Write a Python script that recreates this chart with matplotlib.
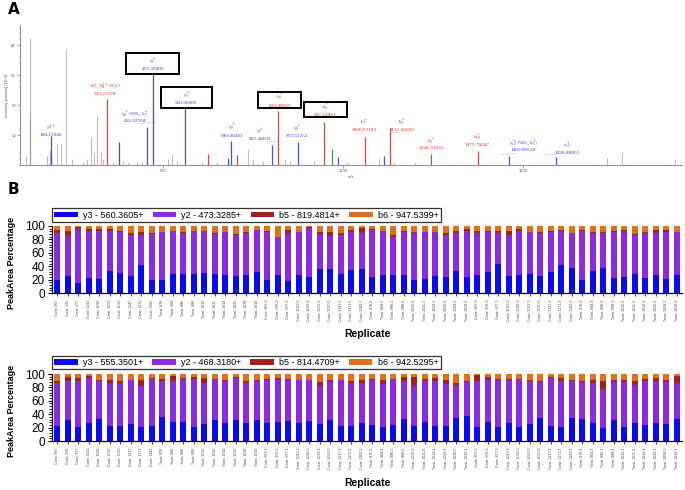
import matplotlib
matplotlib.use('Agg')
import matplotlib.pyplot as plt
from matplotlib.patches import Rectangle
from matplotlib.ticker import MultipleLocator, AutoMinorLocator

plt.rcParams['font.family'] = ['Liberation Sans', 'DejaVu Sans']
plt.rcParams['mathtext.fontset'] = 'stix'

# ---- panel A: MS/MS spectrum (intensity in 10^3 counts) ----
grey_mz = [121, 132, 177, 186, 205, 216, 232, 246, 277, 290, 299, 308, 317, 328, 334,
           362, 390, 404, 427, 441, 515, 524, 538, 607, 649, 737, 751, 779, 839, 853,
           918, 1010, 1100, 1140, 1200, 1732, 1774, 1922]
grey_int = [3.0, 42.2, 3.0, 5.0, 7.0, 7.0, 38.3, 2.0, 1.0, 2.0, 9.4, 4.0, 16.7, 4.5, 2.0,
            1.0, 1.5, 1.0, 1.5, 1.0, 2.0, 3.5, 1.5, 1.0, 1.0, 5.5, 2.0, 1.5, 2.0, 1.5,
            1.5, 1.0, 2.5, 1.0, 1.0, 2.5, 3.9, 2.0]
dark_mz = [131]
dark_int = [17.0]
blue_mz = [188.16, 190, 378, 456.34, 473.33, 560.36, 680, 689.40, 802.49, 873.52, 987, 1113,
           1460.86, 1590.89]
blue_int = [9.8, 3.5, 7.6, 12.8, 33.1, 18.9, 2.2, 8.0, 6.7, 7.6, 2.8, 3.0, 3.1, 2.6]
red_mz = [343.25, 626, 705, 819.48, 947.54, 1060.62, 1131.66, 1244.74, 1373.78]
red_int = [21.9, 3.7, 3.5, 18.0, 14.2, 9.4, 12.4, 3.6, 4.7]
green_mz = [968]
green_int = [5.3]

# label text, x (m/z), y (intensity), colour, box (w in m/z, h in intensity) or None
ion_labels = [
    ('y$_3^{2+}$\n188.15945', 188, 11.8, 'b', None),
    ('b$_3^+$, b$_4^{2+}$-H$_2$O\n343.25378', 339, 25.5, 'r', None),
    ('y$_4^+$-NH$_3$, b$_3^+$\n456.33768', 422, 16.2, 'b', None),
    ('y$_2^+$\n473.32800', 472, 33.8, 'b', (147, 7.0)),
    ('y$_3^+$\n560.36005', 565, 22.5, 'b', (142, 7.0)),
    ('y$_5^+$\n689.40283', 692, 11.7, 'b', None),
    ('y$_7^+$\n802.48633', 769, 10.5, 'b', None),
    ('b$_5^+$\n819.48065', 824, 21.7, 'r', (120, 5.3)),
    ('y$_8^+$\n873.52252', 872, 11.3, 'b', None),
    ('b$_6^+$\n947.53851', 951, 18.5, 'r', (120, 5.0)),
    ('b$_7^+$\n1060.62183', 1058, 13.3, 'r', None),
    ('b$_8^+$\n1131.66003', 1164, 13.3, 'r', None),
    ('b$_9^+$\n1244.74316', 1244, 7.3, 'r', None),
    ('b$_{10}^+$\n1373.78247', 1372, 8.3, 'r', None),
    ('y$_{12}^+$-NH$_3$, b$_{13}^+$\n1460.85628', 1500, 6.7, 'b', None),
    ('y$_{12}^+$\n1590.88855', 1622, 5.7, 'b', None),
]
# little dotted leader marks under some labels: (x0, x1, y) in m/z / intensity
leaders = [(430, 480, 13.8), (790, 825, 7.7), (1135, 1170, 10.7), (1440, 1480, 3.4), (1565, 1605, 3.4)]

# ---- panel B: peak area percentages, 60 replicates ----
ctrl_ids = ['867', '876', '877', '1013', '1026', '1032', '1060', '1147', '1171', '1182']
treat_ids = ['876', '884', '886', '888', '1010', '1011', '1014', '1020', '1028', '1019']
rep_suffix = ['', '.2', '.3']
replicates = []
for s in rep_suffix:
    replicates += ['Contr. ' + c + s for c in ctrl_ids]
    replicates += ['Treat. ' + t + s for t in treat_ids]

top_names = ['y3 - 560.3605+', 'y2 - 473.3285+', 'b5 - 819.4814+', 'b6 - 947.5399+']
top_y3 = [19, 25.5, 15, 22.5, 21, 32.5, 30, 25, 41.5, 20, 20, 29, 29, 28, 30, 29, 26.5, 25, 27.5, 31.5,
          19.5, 26.5, 18, 26.5, 24, 35.5, 35.5, 28, 35, 36.5, 24, 27.5, 27.5, 26.5, 19, 21.5, 25, 24, 32.5, 24,
          27.5, 31.5, 44, 25, 27.5, 29, 25, 31.5, 42.5, 37.5, 19, 32.5, 37.5, 23, 24, 29, 23, 27.5, 20.5, 26.5]
top_y2 = [70, 61, 80, 70.5, 72, 60, 61.5, 61.5, 45, 68, 70.5, 63.5, 61, 64, 62, 58.5, 64.5, 61, 61.5, 62.5,
          71, 56.5, 72, 64, 73.5, 52, 49.5, 58.5, 56.5, 53.5, 70, 65, 55.5, 64, 70, 69.5, 66.5, 62.5, 56.5, 69,
          61.5, 60, 46, 61.5, 65, 61.5, 65, 60, 50.5, 51.5, 73.5, 57.5, 51.5, 68.5, 68.5, 57.5, 66, 61.5, 70, 64]
top_b5 = [5, 6.5, 4, 2, 2, 2.5, 1.5, 3.5, 5, 1, 1, 0.5, 1.5, 1, 1, 2.5, 0.5, 2, 2, 0.5,
          2, 1, 4, 1, 0.5, 3, 6.5, 2.5, 2.5, 7.5, 1, 0.5, 3.5, 2, 1.5, 0.5, 0, 2.5, 3.5, 2,
          3.5, 1.5, 2.5, 6.5, 2.5, 1, 1, 1, 1, 1, 1.5, 1.5, 2, 1, 1.5, 2, 1.5, 5, 3.5, 1]
top_b6 = [6, 7, 1, 5, 5, 5, 7, 10, 8.5, 11, 8.5, 7, 8.5, 7, 7, 10, 8.5, 12, 9, 5.5,
          7.5, 16, 6, 8.5, 2, 9.5, 8.5, 11, 6, 2.5, 5, 7, 13.5, 7.5, 9.5, 8.5, 8.5, 11, 7.5, 5,
          7.5, 7, 7.5, 7, 5, 8.5, 9, 7.5, 6, 10, 6, 8.5, 9, 7.5, 6, 11.5, 9.5, 6, 6, 8.5]

bot_names = ['y3 - 555.3501+', 'y2 - 468.3180+', 'b5 - 814.4709+', 'b6 - 942.5295+']
bot_y3 = [22.5, 31.5, 21.5, 27.5, 33, 22.5, 22.5, 25, 21.5, 22.5, 36.5, 29, 29, 21.5, 25, 31.5, 27.5, 31.5, 26.5, 31.5,
          27.5, 29, 30, 26.5, 30, 25.5, 31.5, 23, 22.5, 26.5, 24, 20.5, 24, 32.5, 22.5, 29, 22.5, 22.5, 35, 37.5,
          21.5, 29, 21.5, 27.5, 21.5, 25, 34, 22.5, 21.5, 34, 32.5, 27.5, 19, 31.5, 20.5, 27.5, 24, 27.5, 25, 32.5]
bot_y2 = [64, 57.5, 67.5, 66.5, 57, 64, 64, 65.5, 60, 70.5, 52.5, 60, 64, 71.5, 61.5, 60, 61.5, 62.5, 60, 57.5,
          64, 62.5, 61.5, 64, 60.5, 57, 56.5, 67.5, 64, 60, 67.5, 65, 67.5, 56.5, 60, 60, 66.5, 62.5, 49, 50.5,
          67.5, 62.5, 70, 64, 70, 65, 54, 71.5, 67.5, 55, 55.5, 59, 58.5, 56, 67, 56.5, 65, 62.5, 62.5, 54]
bot_b5 = [2.5, 6, 5, 2.5, 0.5, 5, 3.5, 1, 9, 1, 3.5, 7.5, 1, 2, 7.5, 1.5, 2.5, 1.5, 3.5, 2.5,
          1.5, 2.5, 1.5, 1, 1, 5.5, 3.5, 1, 3.5, 4, 1, 5, 1, 6, 12.5, 3.5, 5, 6.5, 2.5, 1,
          9, 3.5, 1.5, 1.5, 1, 1.5, 2, 1.5, 5, 2.5, 1, 5, 11.5, 4, 4, 6, 3.5, 4, 4, 10]
bot_b6 = [11, 5, 6, 3.5, 9.5, 8.5, 10, 8.5, 9.5, 6, 7.5, 3.5, 6, 5, 6, 7, 8.5, 4.5, 10, 8.5,
          7, 6, 7, 8.5, 8.5, 12, 8.5, 8.5, 10, 9.5, 7.5, 9.5, 7.5, 5, 5, 7.5, 6, 8.5, 13.5, 11,
          2, 5, 7, 7, 7.5, 8.5, 10, 4.5, 6, 8.5, 11, 8.5, 11, 8.5, 8.5, 10, 7.5, 6, 8.5, 3.5]

bar_colors = ['#0a0af0', '#8a2be2', '#a3201c', '#e0701e']

W, H = 685, 490
fig = plt.figure(figsize=(W / 100, H / 100), dpi=100)


def px_axes(l, t, r, b):
    return fig.add_axes([l / W, 1 - b / H, (r - l) / W, (b - t) / H])


def fig_text(x, y, s, **kw):
    fig.text(x / W, 1 - y / H, s, **kw)


# ---------------- spectrum ----------------
ax = px_axes(20, 25, 682, 165)
ax.vlines(grey_mz, 0, grey_int, color='#bdbdbd', lw=0.8)
ax.vlines(dark_mz, 0, dark_int, color='#9a9a9a', lw=0.8)
ax.vlines(blue_mz, 0, blue_int, color='#4a4af0', lw=0.9)
ax.vlines(red_mz, 0, red_int, color='#e8403c', lw=0.9)
ax.vlines(green_mz, 0, green_int, color='#3aa03a', lw=0.9)
ax.set_xlim(103, 1941)
ax.set_ylim(0, 46.7)
for side in ['top', 'right']:
    ax.spines[side].set_visible(False)
for side in ['left', 'bottom']:
    ax.spines[side].set_color('#777777')
    ax.spines[side].set_linewidth(0.6)
ax.set_xticks([500, 1000, 1500])
ax.xaxis.set_minor_locator(MultipleLocator(100))
ax.set_yticks([10, 20, 30, 40])
ax.yaxis.set_minor_locator(MultipleLocator(2))
ax.tick_params(labelsize=3, colors='#555555', length=2, width=0.4, pad=1)
ax.tick_params(which='minor', length=1, width=0.3, colors='#777777')
ax.set_ylabel('Intensity [counts] (10^3)', fontsize=3, color='#555555', labelpad=2)
ax.set_xlabel('m/z', fontsize=3, color='#555555', labelpad=1)

for txt, x, y, c, box in ion_labels:
    col = '#3c3cf0' if c == 'b' else '#e02a2a'
    ax.text(x, y, txt, ha='center', va='center', fontsize=3.8, color=col,
            family='Liberation Serif', linespacing=1.1, zorder=6)
    if box is not None:
        bw, bh = box
        ax.add_patch(Rectangle((x - bw / 2, y - bh / 2), bw, bh, fc='white',
                               ec='black', lw=1.4, zorder=5))
for x0, x1, y in leaders:
    ax.plot([x0, x1], [y, y + 0.4], ls=':', lw=0.5, color='#6a6ad0')

fig_text(8, 9, 'A', fontsize=11, fontweight='bold', va='center', family='DejaVu Sans')
fig_text(8, 190, 'B', fontsize=11, fontweight='bold', va='center', family='DejaVu Sans')


# ---------------- stacked bar panels ----------------
def bar_panel(top, bottom, series, names, legend_y):
    bx = px_axes(52, top, 682, bottom)
    xs = range(len(replicates))
    base = [0.0] * len(replicates)
    for vals, name, col in zip(series, names, bar_colors):
        bx.bar(xs, vals, bottom=base, width=0.6, color=col, label=name, lw=0)
        base = [b + v for b, v in zip(base, vals)]
    bx.set_xlim(-0.5, len(replicates) - 0.5)
    bx.set_ylim(0, 100)
    bx.set_yticks(range(0, 101, 20))
    bx.yaxis.set_minor_locator(AutoMinorLocator(5))
    bx.set_xticks(list(xs))
    bx.set_xticklabels(replicates, rotation=90, fontsize=2.6, color='#444444')
    bx.tick_params(axis='y', labelsize=8.5, length=3, width=0.8, pad=2)
    bx.tick_params(axis='y', which='minor', length=2, width=0.6)
    bx.tick_params(axis='x', length=2, width=0.5, pad=3)
    for side in ['top', 'right']:
        bx.spines[side].set_visible(False)
    for side in ['left', 'bottom']:
        bx.spines[side].set_linewidth(0.9)
    leg = bx.legend(ncol=4, loc='lower left', bbox_to_anchor=(0.0, legend_y),
                    borderaxespad=0, fontsize=6.5, frameon=True, fancybox=False,
                    edgecolor='black', handlelength=2.6, handleheight=0.55,
                    columnspacing=1.0, handletextpad=0.6, borderpad=0.25)
    leg.get_frame().set_linewidth(0.9)
    return bx


bar_panel(226, 293, [top_y3, top_y2, top_b5, top_b6], top_names, 1.06)
bar_panel(374, 441, [bot_y3, bot_y2, bot_b5, bot_b6], bot_names, 1.07)

for yc in [263, 411]:
    fig_text(12, yc, 'PeakArea Percentage', rotation=90, fontsize=6.5,
             fontweight='bold', ha='center', va='center')
for yc in [334, 483]:
    fig_text(367, yc, 'Replicate', fontsize=7.5, fontweight='bold',
             ha='center', va='center')

fig.savefig('out.png', dpi=100)
